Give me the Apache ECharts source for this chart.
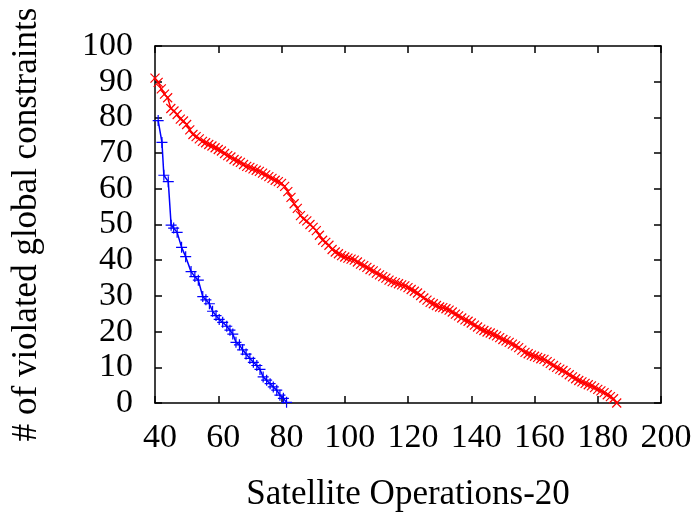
<!DOCTYPE html>
<html>
<head>
<meta charset="utf-8">
<script src="https://cdn.jsdelivr.net/npm/echarts@6/dist/echarts.min.js"></script>
<style>
  html, body { margin: 0; padding: 0; background: #fff; }
  #chart { width: 696px; height: 517px; }
</style>
</head>
<body>
<div id="chart"></div>
<script>
// red series (x marks), one point per operation from 40 to 186
const redX = [];
for (let x = 40; x <= 186; x++) redX.push(x);
const redY = [
  91, 89.8, 88, 86.5, 85.5, 82.5, 81.8, 80.8, 79.5, 79,
  78, 76.5, 75.2, 74.6, 74, 73.3, 72.9, 72.4, 72, 71.5,
  71, 70.6, 69.9, 69.3, 68.9, 68.2, 67.8, 67.4, 66.8, 66.3,
  66, 65.6, 65.2, 64.9, 64.4, 63.9, 63.4, 62.9, 62.4, 62,
  61.5, 60.7, 59.2, 57.6, 55.8, 54.5, 52.5, 51.5, 51, 50,
  49.2, 48.3, 47, 45.6, 45, 44.2, 43, 42.3, 41.8, 41.3,
  40.9, 40.6, 40.3, 40, 39.5, 38.9, 38.5, 38, 37.4, 37,
  36.4, 35.9, 35.4, 35, 34.4, 34, 33.7, 33.4, 33.1, 32.8,
  32.3, 31.8, 31.3, 30.8, 30.1, 29.4, 28.8, 28.2, 27.8, 27.3,
  26.9, 26.7, 26.4, 26, 25.5, 24.9, 24.4, 23.8, 23.3, 22.9,
  22.4, 21.8, 21.3, 20.7, 20.3, 19.9, 19.6, 19.2, 18.8, 18.3,
  17.8, 17.4, 17, 16.5, 16, 15.5, 14.8, 14.2, 13.8, 13.4,
  13.1, 12.8, 12.4, 12.2, 11.6, 11.1, 10.5, 10, 9.5, 9.1,
  8.5, 7.9, 7.3, 6.8, 6.3, 5.9, 5.5, 5.1, 4.8, 4.3,
  3.8, 3.4, 2.9, 2.3, 1.8, 1.2, 0
];

// blue series (plus marks)
const blueX = [
  41.0, 42.2, 42.8, 44.2, 45.1, 45.9, 47.0, 48.4, 49.7, 51.4,
  52.6, 53.7, 55.1, 56.1, 57.2, 58.2, 59.3, 60.3, 61.4, 62.7,
  63.7, 64.6, 65.6, 66.7, 67.7, 68.8, 70.0, 71.1, 72.2, 73.2,
  74.2, 75.3, 76.4, 77.4, 78.5, 79.5, 80.6, 81.6
];
const blueY = [
  79.1, 73.0, 63.8, 62.0, 49.8, 49.0, 47.8, 43.6, 41.0, 36.8,
  35.4, 34.4, 29.8, 28.9, 27.8, 25.7, 24.5, 23.4, 22.6, 21.5,
  20.4, 19.3, 17.0, 16.3, 14.9, 13.7, 12.5, 11.4, 10.5, 9.4,
  7.3, 6.4, 5.4, 4.5, 3.6, 2.2, 1.3, 0.2
];

const xTicks = { min: 40, max: 200, interval: 20 };
const yTicks = { min: 0, max: 100, interval: 10 };

const font = 'Liberation Serif';
const pair = (xs, ys) => xs.map((x, i) => [x, ys[i]]);

const chart = echarts.init(document.getElementById('chart'), null, { renderer: 'canvas' });

const lineAxis = { show: true, onZero: false, lineStyle: { color: '#000', width: 1.5 } };
const innerTick = { show: true, inside: true, length: 7, lineStyle: { color: '#000', width: 1.5 } };

chart.setOption({
  animation: false,
  backgroundColor: '#fff',
  grid: { left: 155, right: 35, top: 46, bottom: 109 },
  xAxis: [{
    type: 'value',
    ...xTicks,
    position: 'bottom',
    name: 'Satellite Operations-20',
    nameLocation: 'middle',
    nameGap: 74,
    nameTextStyle: { fontFamily: font, fontSize: 35, color: '#000' },
    axisLine: lineAxis,
    axisTick: innerTick,
    splitLine: { show: false },
    axisLabel: { fontFamily: font, fontSize: 34, color: '#000', margin: 18, padding: [0, 0, 0, 10] }
  }, {
    type: 'value',
    ...xTicks,
    position: 'top',
    axisLine: lineAxis,
    axisTick: innerTick,
    splitLine: { show: false },
    axisLabel: { show: false }
  }],
  yAxis: [{
    type: 'value',
    ...yTicks,
    position: 'left',
    name: '# of violated global constraints',
    nameLocation: 'middle',
    nameGap: 111,
    nameTextStyle: { fontFamily: font, fontSize: 35, color: '#000' },
    axisLine: lineAxis,
    axisTick: innerTick,
    splitLine: { show: false },
    axisLabel: { fontFamily: font, fontSize: 34, color: '#000', margin: 22 }
  }, {
    type: 'value',
    ...yTicks,
    position: 'right',
    axisLine: lineAxis,
    axisTick: innerTick,
    splitLine: { show: false },
    axisLabel: { show: false }
  }],
  series: [{
    type: 'line',
    data: pair(redX, redY),
    showAllSymbol: true,
    symbol: 'path://M0,0L10,10M10,0L0,10',
    symbolSize: 9,
    lineStyle: { color: '#ff0000', width: 1.5 },
    itemStyle: { color: '#ff0000', borderColor: '#ff0000', borderWidth: 1.2 }
  }, {
    type: 'line',
    data: pair(blueX, blueY),
    showAllSymbol: true,
    symbol: 'path://M5,0L5,10M0,5L10,5',
    symbolSize: 11,
    lineStyle: { color: '#0000ff', width: 1.5 },
    itemStyle: { color: '#0000ff', borderColor: '#0000ff', borderWidth: 1.2 }
  }]
});
</script>
</body>
</html>
